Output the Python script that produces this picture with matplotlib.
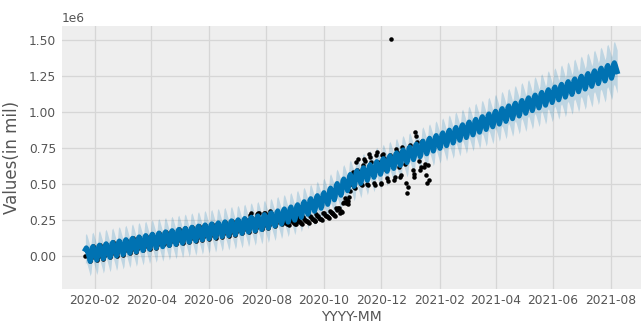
import numpy as np
import pandas as pd
import matplotlib
matplotlib.use('Agg')
import matplotlib.pyplot as plt
import matplotlib.dates as mdates

# observed values (millions), one row per week starting 2020-01-22
observed = [
    [0.000, 0.056, 0.038, 0.014, -0.010, -0.038, -0.017],
    [0.054, 0.066, 0.047, 0.024, 0.000, -0.028, -0.007],
    [0.064, 0.075, 0.057, 0.033, 0.009, -0.019, 0.002],
    [0.074, 0.085, 0.066, 0.043, 0.019, -0.010, 0.012],
    [0.083, 0.094, 0.076, 0.052, 0.028, 0.000, 0.021],
    [0.093, 0.104, 0.085, 0.062, 0.038, 0.010, 0.031],
    [0.102, 0.113, 0.095, 0.071, 0.047, 0.019, 0.040],
    [0.112, 0.123, 0.104, 0.081, 0.057, 0.028, 0.050],
    [0.121, 0.132, 0.114, 0.090, 0.066, 0.038, 0.059],
    [0.131, 0.142, 0.123, 0.100, 0.076, 0.047, 0.069],
    [0.140, 0.151, 0.132, 0.109, 0.085, 0.056, 0.077],
    [0.148, 0.159, 0.140, 0.117, 0.093, 0.125, 0.085],
    [0.157, 0.168, 0.149, 0.125, 0.101, 0.073, 0.094],
    [0.165, 0.176, 0.157, 0.134, 0.110, 0.081, 0.102],
    [0.173, 0.184, 0.165, 0.142, 0.118, 0.089, 0.110],
    [0.181, 0.192, 0.173, 0.150, 0.126, 0.097, 0.118],
    [0.189, 0.200, 0.181, 0.158, 0.134, 0.105, 0.126],
    [0.197, 0.208, 0.189, 0.166, 0.142, 0.113, 0.134],
    [0.205, 0.216, 0.197, 0.174, 0.150, 0.121, 0.142],
    [0.212, 0.223, 0.204, 0.180, 0.156, 0.127, 0.148],
    [0.219, 0.230, 0.211, 0.187, 0.163, 0.134, 0.155],
    [0.226, 0.237, 0.218, 0.194, 0.170, 0.141, 0.162],
    [0.233, 0.244, 0.225, 0.201, 0.177, 0.148, 0.169],
    [0.240, 0.251, 0.233, 0.209, 0.185, 0.157, 0.178],
    [0.249, 0.260, 0.242, 0.218, 0.194, 0.166, 0.187],
    [0.285, 0.295, 0.265, 0.227, 0.203, 0.175, 0.196],
    [0.290, 0.300, 0.300, 0.260, 0.212, 0.184, 0.205],
    [0.300, 0.300, 0.290, 0.255, 0.221, 0.193, 0.215],
    [0.310, 0.300, 0.280, 0.260, 0.236, 0.209, 0.232],
    [0.300, 0.295, 0.280, 0.270, 0.250, 0.222, 0.230],
    [0.29, 0.26, 0.25, 0.23, 0.225, 0.22, 0.215],
    [0.28, 0.25, 0.24, 0.235, 0.23, 0.225, 0.22],
    [0.27, 0.25, 0.24, 0.24, 0.235, 0.23, 0.225],
    [0.27, 0.26, 0.25, 0.245, 0.24, 0.235, 0.23],
    [0.28, 0.27, 0.26, 0.255, 0.25, 0.245, 0.24],
    [0.29, 0.28, 0.275, 0.265, 0.26, 0.255, 0.25],
    [0.30, 0.295, 0.285, 0.28, 0.275, 0.27, 0.265],
    [0.31, 0.305, 0.30, 0.295, 0.29, 0.285, 0.28],
    [0.33, 0.32, 0.335, 0.33, 0.30, 0.31, 0.305],
    [0.37, 0.375, 0.40, 0.37, 0.39, 0.36, 0.38],
    [0.41, 0.45, 0.50, 0.56, 0.58, 0.48, 0.47],
    [0.65, 0.60, 0.67, 0.58, 0.56, 0.50, 0.49],
    [0.63, 0.67, 0.66, 0.60, 0.56, 0.50, 0.49],
    [0.71, 0.69, 0.65, 0.62, 0.57, 0.51, 0.49],
    [0.70, 0.72, 0.65, 0.60, 0.58, 0.51, 0.50],
    [0.70, 0.71, 0.68, 0.62, 0.60, 0.54, 0.52],
    [0.68, 0.70, 1.51, 0.66, 0.62, 0.53, 0.55],
    [0.74, 0.72, 0.70, 0.66, 0.62, 0.55, 0.56],
    [0.76, 0.73, 0.70, 0.64, 0.51, 0.44, 0.48],
    [0.76, 0.77, 0.72, 0.70, 0.60, 0.55, 0.57],
    [0.86, 0.83, 0.79, 0.75, 0.66, 0.60, 0.62],
    [0.80, 0.78, 0.62, 0.64, 0.56, 0.51, 0.63],
    [0.53],
]
history_start = '2020-01-22'
forecast_end = '2021-08-08'

# piecewise-linear trend at its changepoints (millions)
trend_dates = ['2020-01-22', '2020-04-01', '2020-05-01', '2020-06-01',
               '2020-07-01', '2020-08-01', '2020-09-01', '2020-10-01',
               '2020-11-01', '2020-12-01', '2021-01-01', '2021-01-20',
               '2021-08-08']
trend_values = [0.005, 0.10, 0.135, 0.17, 0.20, 0.24, 0.30, 0.39,
                0.53, 0.62, 0.71, 0.765, 1.30]

# weekly effect, first entry is the weekday of history_start
weekly = [0.04, 0.05, 0.03, 0.005, -0.02, -0.05, -0.03]

# half width of the uncertainty interval (millions)
interval_dates = ['2020-01-22', '2021-01-20', '2021-08-08']
interval_values = [0.10, 0.10, 0.15]

y_ticks = [0.0, 0.25, 0.5, 0.75, 1.0, 1.25, 1.5]


def knots(ds, dates, values):
    t = ds.values.astype('datetime64[D]').astype(float)
    k = pd.to_datetime(dates).values.astype('datetime64[D]').astype(float)
    return np.interp(t, k, values)


def main():
    obs = np.concatenate([np.array(r) for r in observed]) * 1e6
    hist_ds = pd.date_range(history_start, periods=len(obs), freq='D')

    ds = pd.date_range(history_start, forecast_end, freq='D')
    season = np.array([weekly[i % 7] for i in range(len(ds))])
    yhat = (knots(ds, trend_dates, trend_values) + season) * 1e6
    half = knots(ds, interval_dates, interval_values) * 1e6

    fig = plt.figure(figsize=(6.44, 3.25), dpi=100, facecolor='w')
    ax = fig.add_axes([0.096, 0.111, 0.899, 0.809])
    ax.set_facecolor('#eeeeee')
    ax.set_axisbelow(True)
    ax.grid(True, color='#d6d6d6', lw=0.9)
    for s in ax.spines.values():
        s.set_visible(False)

    ax.plot(hist_ds, obs, 'k.', ms=6.5, mew=0)
    ax.plot(ds, yhat, ls='-', c='#0072B2', lw=3.6)
    ax.fill_between(ds, yhat - half, yhat + half, color='#0072B2', alpha=0.2,
                    lw=0)

    ax.set_xlim(pd.Timestamp('2019-12-28'), pd.Timestamp('2021-09-02'))
    ax.set_ylim(-0.229e6, 1.597e6)
    ax.set_yticks([v * 1e6 for v in y_ticks])
    ax.xaxis.set_major_locator(mdates.MonthLocator(bymonth=[2, 4, 6, 8, 10, 12]))
    ax.xaxis.set_major_formatter(mdates.DateFormatter('%Y-%m'))
    ax.tick_params(length=0, labelsize=8.8, labelcolor='#555555', pad=4)
    ax.yaxis.get_offset_text().set_fontsize(8.8)
    ax.yaxis.get_offset_text().set_color('#555555')

    ax.set_xlabel('YYYY-MM', fontsize=10, color='#555555', labelpad=2)
    ax.set_ylabel('Values(in mil)', fontsize=12, color='#555555', labelpad=6)

    fig.savefig('out.png', dpi=100, facecolor='w')


main()
